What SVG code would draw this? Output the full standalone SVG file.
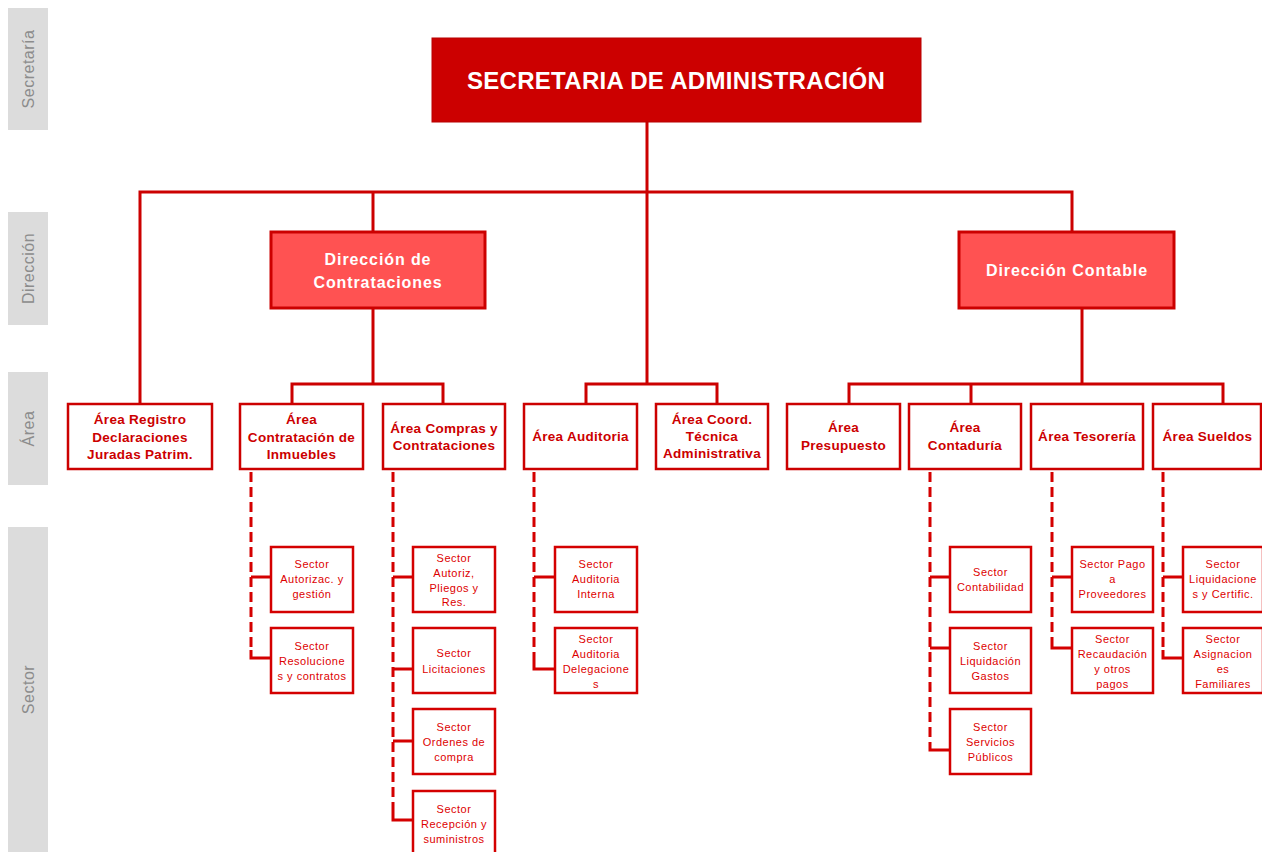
<svg xmlns="http://www.w3.org/2000/svg" width="1262" height="852" viewBox="0 0 1262 852">
<style>
.band{fill:#dcdcdc}
.bandt{font-family:"Liberation Sans",Arial,sans-serif;font-size:16px;fill:#8c8c8c;text-anchor:middle;letter-spacing:0.5px}
.top{fill:#cc0000;stroke:#b80000;stroke-width:1}
.topt{font-family:"Liberation Sans",Arial,sans-serif;font-size:24px;font-weight:bold;fill:#fff;text-anchor:middle;letter-spacing:0.3px}
.dir{fill:#ff5252;stroke:#cc0000;stroke-width:3}
.dirt{font-family:"Liberation Sans",Arial,sans-serif;font-size:16px;font-weight:bold;fill:#fff;text-anchor:middle;letter-spacing:0.9px}
.area{fill:#fff;stroke:#cc0000;stroke-width:2.5}
.areat{font-family:"Liberation Sans",Arial,sans-serif;font-size:13.5px;font-weight:bold;fill:#cc0000;text-anchor:middle;letter-spacing:0.3px}
.sec{fill:#fff;stroke:#d40000;stroke-width:2.5}
.sect{font-family:"Liberation Sans",Arial,sans-serif;font-size:11px;fill:#dd0000;text-anchor:middle;letter-spacing:0.5px}
.ln{fill:none;stroke:#cc0000;stroke-width:3}
.dash{fill:none;stroke:#d40000;stroke-width:3;stroke-dasharray:10 5}
.tick{fill:none;stroke:#d40000;stroke-width:3}
</style>

<g id="bands">
<rect class="band" x="8" y="8" width="40" height="122"/>
<text class="bandt" transform="translate(34,69) rotate(-90)">Secretaría</text>
<rect class="band" x="8" y="212" width="40" height="113"/>
<text class="bandt" transform="translate(34,268.5) rotate(-90)">Dirección</text>
<rect class="band" x="8" y="372" width="40" height="113"/>
<text class="bandt" transform="translate(34,428.5) rotate(-90)">Área</text>
<rect class="band" x="8" y="527" width="40" height="330"/>
<text class="bandt" transform="translate(34,689.5) rotate(-90)">Sector</text>
</g>

<g id="connectors">
<path class="ln" d="M647,122 V384"/>
<path class="ln" d="M140,404 V192 H1072 V232"/>
<path class="ln" d="M373,192 V232"/>
<path class="ln" d="M373,308 V384"/>
<path class="ln" d="M292,404 V384 H443 V404"/>
<path class="ln" d="M586,404 V384 H717 V404"/>
<path class="ln" d="M1082,308 V384"/>
<path class="ln" d="M849,404 V384 H1223 V404"/>
<path class="ln" d="M971,384 V404"/>

<path class="dash" d="M251,472 V650"/>
<path class="tick" d="M251,577 H271 M251,650 V658 H271"/>
<path class="dash" d="M393,472 V812"/>
<path class="tick" d="M393,577 H413 M393,669 H413 M393,741 H413 M393,812 V820 H413"/>
<path class="dash" d="M534,472 V661"/>
<path class="tick" d="M534,577 H555 M534,661 V669 H555"/>
<path class="dash" d="M930,472 V742"/>
<path class="tick" d="M930,577 H950 M930,648 H950 M930,742 V750 H950"/>
<path class="dash" d="M1052,472 V640"/>
<path class="tick" d="M1052,577 H1072 M1052,640 V648 H1072"/>
<path class="dash" d="M1163,472 V650"/>
<path class="tick" d="M1163,577 H1183 M1163,650 V658 H1183"/>
</g>

<g id="secretaria">
<rect class="top" x="432" y="38" width="489" height="84"/>
<text class="topt" x="676" y="89">SECRETARIA DE ADMINISTRACIÓN</text>
</g>

<g id="dir-contrataciones">
<rect class="dir" x="271" y="232" width="214" height="76"/>
<text class="dirt" x="378" y="265">Dirección de</text>
<text class="dirt" x="378" y="288">Contrataciones</text>
</g>
<g id="dir-contable">
<rect class="dir" x="959" y="232" width="215" height="76"/>
<text class="dirt" x="1067" y="276">Dirección Contable</text>
</g>

<g id="area-registro">
<rect class="area" x="68" y="404" width="144" height="65"/>
<text class="areat" x="140" y="424">Área Registro</text>
<text class="areat" x="140" y="442">Declaraciones</text>
<text class="areat" x="140" y="459">Juradas Patrim.</text>
</g>
<g id="area-contratacion">
<rect class="area" x="240" y="404" width="123" height="65"/>
<text class="areat" x="301.5" y="424">Área</text>
<text class="areat" x="301.5" y="442">Contratación de</text>
<text class="areat" x="301.5" y="459">Inmuebles</text>
</g>
<g id="area-compras">
<rect class="area" x="383" y="404" width="122" height="65"/>
<text class="areat" x="444" y="433">Área Compras y</text>
<text class="areat" x="444" y="450">Contrataciones</text>
</g>
<g id="area-auditoria">
<rect class="area" x="524" y="404" width="113" height="65"/>
<text class="areat" x="580.5" y="441">Área Auditoria</text>
</g>
<g id="area-coord">
<rect class="area" x="656" y="404" width="112" height="65"/>
<text class="areat" x="712" y="424">Área Coord.</text>
<text class="areat" x="712" y="441">Técnica</text>
<text class="areat" x="712" y="458">Administrativa</text>
</g>
<g id="area-presupuesto">
<rect class="area" x="787" y="404" width="113" height="65"/>
<text class="areat" x="843.5" y="432">Área</text>
<text class="areat" x="843.5" y="450">Presupuesto</text>
</g>
<g id="area-contaduria">
<rect class="area" x="909" y="404" width="112" height="65"/>
<text class="areat" x="965" y="432">Área</text>
<text class="areat" x="965" y="450">Contaduría</text>
</g>
<g id="area-tesoreria">
<rect class="area" x="1031" y="404" width="112" height="65"/>
<text class="areat" x="1087" y="441">Área Tesorería</text>
</g>
<g id="area-sueldos">
<rect class="area" x="1153" y="404" width="108" height="65"/>
<text class="areat" x="1207.5" y="441">Área Sueldos</text>
</g>

<g id="sec-autorizac">
<rect class="sec" x="271" y="547" width="82" height="65"/>
<text class="sect" x="312" y="568">Sector</text>
<text class="sect" x="312" y="583">Autorizac. y</text>
<text class="sect" x="312" y="598">gestión</text>
</g>
<g id="sec-resoluciones">
<rect class="sec" x="271" y="628" width="82" height="65"/>
<text class="sect" x="312" y="650">Sector</text>
<text class="sect" x="312" y="665">Resolucione</text>
<text class="sect" x="312" y="680">s y contratos</text>
</g>
<g id="sec-autoriz-pliegos">
<rect class="sec" x="413" y="547" width="82" height="65"/>
<text class="sect" x="454" y="562">Sector</text>
<text class="sect" x="454" y="577">Autoriz,</text>
<text class="sect" x="454" y="592">Pliegos y</text>
<text class="sect" x="454" y="606">Res.</text>
</g>
<g id="sec-licitaciones">
<rect class="sec" x="413" y="628" width="82" height="65"/>
<text class="sect" x="454" y="657">Sector</text>
<text class="sect" x="454" y="673">Licitaciones</text>
</g>
<g id="sec-ordenes">
<rect class="sec" x="413" y="709" width="82" height="65"/>
<text class="sect" x="454" y="731">Sector</text>
<text class="sect" x="454" y="746">Ordenes de</text>
<text class="sect" x="454" y="761">compra</text>
</g>
<g id="sec-recepcion">
<rect class="sec" x="413" y="791" width="82" height="65"/>
<text class="sect" x="454" y="813">Sector</text>
<text class="sect" x="454" y="828">Recepción y</text>
<text class="sect" x="454" y="843">suministros</text>
</g>
<g id="sec-auditoria-interna">
<rect class="sec" x="555" y="547" width="82" height="65"/>
<text class="sect" x="596" y="568">Sector</text>
<text class="sect" x="596" y="583">Auditoria</text>
<text class="sect" x="596" y="598">Interna</text>
</g>
<g id="sec-auditoria-delegaciones">
<rect class="sec" x="555" y="628" width="82" height="65"/>
<text class="sect" x="596" y="643">Sector</text>
<text class="sect" x="596" y="658">Auditoria</text>
<text class="sect" x="596" y="673">Delegacione</text>
<text class="sect" x="596" y="688">s</text>
</g>
<g id="sec-contabilidad">
<rect class="sec" x="950" y="547" width="81" height="65"/>
<text class="sect" x="990.5" y="576">Sector</text>
<text class="sect" x="990.5" y="591">Contabilidad</text>
</g>
<g id="sec-liquidacion-gastos">
<rect class="sec" x="950" y="628" width="81" height="65"/>
<text class="sect" x="990.5" y="650">Sector</text>
<text class="sect" x="990.5" y="665">Liquidación</text>
<text class="sect" x="990.5" y="680">Gastos</text>
</g>
<g id="sec-servicios">
<rect class="sec" x="950" y="709" width="81" height="65"/>
<text class="sect" x="990.5" y="731">Sector</text>
<text class="sect" x="990.5" y="746">Servicios</text>
<text class="sect" x="990.5" y="761">Públicos</text>
</g>
<g id="sec-pago">
<rect class="sec" x="1072" y="547" width="81" height="65"/>
<text class="sect" x="1112.5" y="568">Sector Pago</text>
<text class="sect" x="1112.5" y="583">a</text>
<text class="sect" x="1112.5" y="598">Proveedores</text>
</g>
<g id="sec-recaudacion">
<rect class="sec" x="1072" y="628" width="81" height="65"/>
<text class="sect" x="1112.5" y="643">Sector</text>
<text class="sect" x="1112.5" y="658">Recaudación</text>
<text class="sect" x="1112.5" y="673">y otros</text>
<text class="sect" x="1112.5" y="688">pagos</text>
</g>
<g id="sec-liquidaciones">
<rect class="sec" x="1183" y="547" width="80" height="65"/>
<text class="sect" x="1223" y="568">Sector</text>
<text class="sect" x="1223" y="583">Liquidacione</text>
<text class="sect" x="1223" y="598">s y Certific.</text>
</g>
<g id="sec-asignaciones">
<rect class="sec" x="1183" y="628" width="80" height="65"/>
<text class="sect" x="1223" y="643">Sector</text>
<text class="sect" x="1223" y="658">Asignacion</text>
<text class="sect" x="1223" y="673">es</text>
<text class="sect" x="1223" y="688">Familiares</text>
</g>
</svg>
